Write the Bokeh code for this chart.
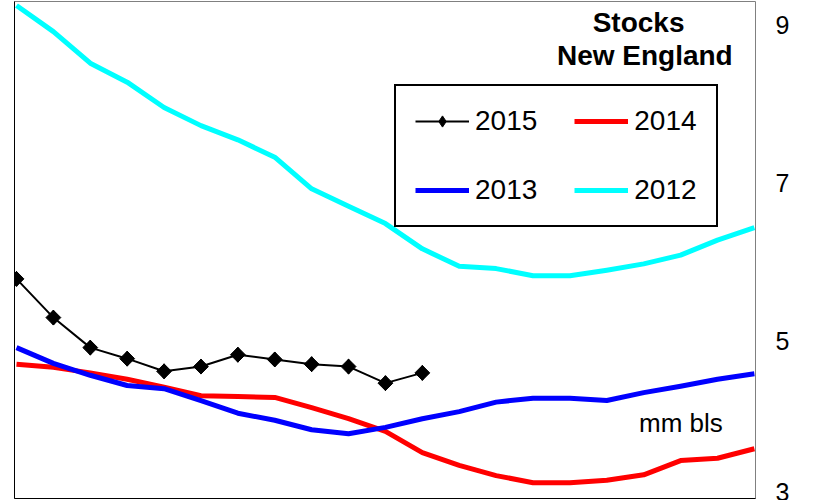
import numpy as np
from bokeh.plotting import figure
from bokeh.models import (Range1d, LinearAxis, FixedTicker, Legend, LegendItem, Label)
from bokeh.embed import file_html
from bokeh.resources import INLINE

# ---- data ----
weeks = list(range(21))
stocks_2015 = [5.78, 5.29, 4.91, 4.77, 4.61, 4.67, 4.82, 4.76, 4.70, 4.67, 4.46, 4.59]
stocks_2014 = [4.70, 4.66, 4.59, 4.51, 4.41, 4.30, 4.29, 4.28, 4.15, 4.01, 3.85,
               3.58, 3.42, 3.29, 3.20, 3.20, 3.23, 3.30, 3.48, 3.51, 3.63]
stocks_2013 = [4.91, 4.71, 4.56, 4.43, 4.39, 4.24, 4.08, 3.99, 3.87, 3.82, 3.90,
               4.01, 4.10, 4.22, 4.27, 4.27, 4.24, 4.34, 4.42, 4.51, 4.58]
stocks_2012 = [9.24, 8.91, 8.51, 8.27, 7.95, 7.72, 7.54, 7.32, 6.92, 6.70, 6.48,
               6.16, 5.94, 5.91, 5.82, 5.82, 5.89, 5.97, 6.08, 6.27, 6.43]
y_ticks = [3, 5, 7, 9]

FONT = "Liberation Sans"

p = figure(width=810, height=500,
           x_range=Range1d(-0.054, 20.03), y_range=Range1d(3, 3 + 497 / 79),
           output_backend="svg", toolbar_location=None,
           x_axis_type=None, y_axis_type=None,
           min_border_left=14, min_border_right=55,
           min_border_top=1, min_border_bottom=2)
p.outline_line_color = "#808080"
p.outline_line_width = 1
p.background_fill_color = "white"
p.border_fill_color = "white"

# right value axis
yaxis = LinearAxis(ticker=FixedTicker(ticks=y_ticks),
                   major_label_text_font_size="25px",
                   major_label_text_font=FONT,
                   major_label_text_color="black",
                   major_tick_out=0, major_tick_in=0,
                   minor_tick_out=0, minor_tick_in=0,
                   axis_line_color=None, major_label_standoff=20)
p.add_layout(yaxis, "right")

# plain black frame lines on left and bottom
for side in ("left", "below"):
    ax = LinearAxis(ticker=FixedTicker(ticks=[]),
                    major_label_text_font_size="0px",
                    major_tick_out=0, major_tick_in=0,
                    minor_tick_out=0, minor_tick_in=0,
                    major_label_standoff=0,
                    axis_line_color="black", axis_line_width=1)
    p.add_layout(ax, side)

r12 = p.line(weeks, stocks_2012, line_color="#00FFFF", line_width=5, line_join="round")
r14 = p.line(weeks, stocks_2014, line_color="#FF0000", line_width=5, line_join="round")
r13 = p.line(weeks, stocks_2013, line_color="#0000FF", line_width=5, line_join="round")
w15 = weeks[:len(stocks_2015)]
r15l = p.line(w15, stocks_2015, line_color="black", line_width=2)
# narrow diamond (used for the legend key), covered by the rotated squares in the plot
r15d = p.scatter(w15, stocks_2015, marker="diamond", size=15,
                 fill_color="black", line_color="black")
r15m = p.scatter(w15, stocks_2015, marker="square", angle=np.pi / 4, size=10.5,
                 fill_color="black", line_color="black")

legend = Legend(items=[LegendItem(label="2015", renderers=[r15l, r15d]),
                       LegendItem(label="2014", renderers=[r14]),
                       LegendItem(label="2013", renderers=[r13]),
                       LegendItem(label="2012", renderers=[r12])],
                orientation="horizontal", ncols=2,
                location=(380, 271),
                label_text_font_size="28px", label_text_font=FONT,
                label_text_color="black",
                glyph_width=54, glyph_height=28, label_height=28,
                label_standoff=6, spacing=37, padding=19, margin=0,
                border_line_color="black", border_line_width=2, border_line_alpha=1,
                background_fill_color="white", background_fill_alpha=1)
p.add_layout(legend)

p.add_layout(Label(x=16.86, y=9.03, text="Stocks",
                   text_align="center", text_baseline="alphabetic",
                   text_font=FONT, text_font_size="28px", text_font_style="bold",
                   text_color="black"))
p.add_layout(Label(x=17.03, y=8.61, text="New England",
                   text_align="center", text_baseline="alphabetic",
                   text_font=FONT, text_font_size="28px", text_font_style="bold",
                   text_color="black"))
p.add_layout(Label(x=18.01, y=3.95, text="mm bls",
                   text_align="center", text_baseline="alphabetic",
                   text_font=FONT, text_font_size="26px",
                   text_color="black"))

open("out.html", "w").write(file_html(p, INLINE))
